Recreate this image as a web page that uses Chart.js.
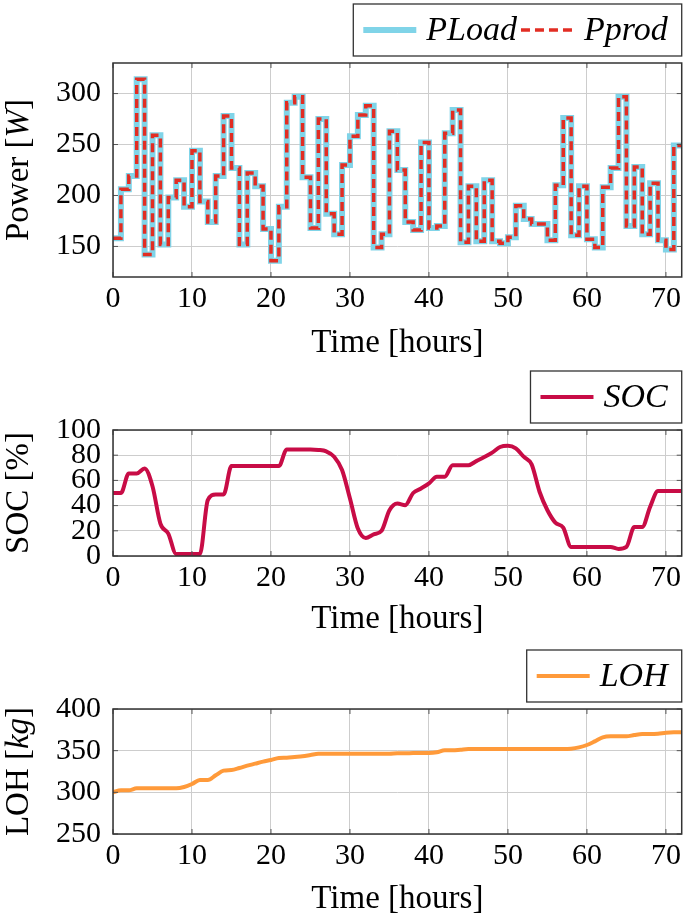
<!DOCTYPE html>
<html>
<head>
<meta charset="utf-8">
<script src="https://cdn.jsdelivr.net/npm/chart.js@4.4.1/dist/chart.umd.min.js"></script>
<style>
  html, body { margin: 0; padding: 0; background: #fff; }
  canvas { position: absolute; left: 0; display: block; }
  #powerChart { top: 0; }
  #socChart { top: 360px; }
  #lohChart { top: 640px; }
</style>
</head>
<body>
<canvas id="powerChart" width="685" height="360"></canvas>
<canvas id="socChart" width="685" height="280"></canvas>
<canvas id="lohChart" width="685" height="281"></canvas>
<script>
// time axis (hours)
const hours = [0, 1, 2, 3, 4, 5, 6, 7, 8, 9, 10, 11, 12, 13, 14, 15, 16, 17, 18, 19, 20,
  21, 22, 23, 24, 25, 26, 27, 28, 29, 30, 31, 32, 33, 34, 35, 36, 37, 38, 39, 40,
  41, 42, 43, 44, 45, 46, 47, 48, 49, 50, 51, 52, 53, 54, 55, 56, 57, 58, 59, 60,
  61, 62, 63, 64, 65, 66, 67, 68, 69, 70, 71, 72];

// power [W], hourly steps
const pLoad = [158, 206, 219, 314, 142, 259, 152, 198, 215, 189, 244, 194, 174, 219, 278, 227,
  152, 222, 209, 167, 136, 189, 291, 297, 218, 168, 275, 182, 162, 230, 258, 279,
  288, 149, 162, 263, 225, 174, 166, 252, 168, 170, 261, 284, 154, 209, 155, 215,
  155, 153, 159, 190, 177, 172, 172, 156, 210, 276, 161, 209, 157, 149, 208, 227,
  297, 170, 228, 162, 212, 156, 147, 249, 249];
const pProd = [158, 206, 219, 314, 142, 259, 152, 198, 215, 189, 244, 194, 174, 219, 278, 227,
  152, 222, 209, 167, 136, 189, 291, 297, 218, 168, 275, 182, 162, 230, 258, 279,
  288, 149, 162, 263, 225, 174, 166, 252, 168, 170, 261, 284, 154, 209, 155, 215,
  155, 153, 159, 190, 177, 172, 172, 156, 210, 276, 161, 209, 157, 149, 208, 227,
  297, 170, 228, 162, 212, 156, 147, 249, 249];

// state of charge [%]
const soc = [50, 50, 65.5, 65.5, 69.5, 55.4, 25.7, 17.8, 1.5, 1.5, 1.5, 1.5, 44.3, 48.8, 48.8, 71.4,
  71.4, 71.4, 71.4, 71.4, 71.4, 71.4, 84.6, 84.6, 84.6, 84.6, 84.2, 83, 78.8, 68.2, 45.6, 21.8,
  14.3, 17.2, 20, 36.3, 41.6, 40.3, 50, 53.6, 57.6, 62.9, 62.9, 72.1, 72.1, 72.1, 75.3, 78.5,
  82, 86.5, 87.5, 85.4, 78.8, 72.7, 51, 36.3, 26.5, 22.5, 7.2, 7.2, 7.2, 7.2, 7.2, 7.2,
  5.6, 7.2, 23, 23, 39, 51.5, 51.5, 51.5, 51.5];

// LOH [kg]
const loh = [300, 302.4, 302.4, 304.8, 304.8, 304.8, 304.8, 304.8, 304.8, 306.4, 310, 314.8, 314.8, 320.4, 326, 326.8,
  329.2, 332, 334.4, 336.8, 338.8, 341.2, 341.6, 342.4, 343.2, 344.8, 346.4, 346.4, 346.4, 346.4, 346.4, 346.4,
  346.4, 346.4, 346.4, 346.4, 346.8, 346.8, 347.2, 347.2, 347.2, 348, 350.4, 350.4, 351.2, 352, 352, 352,
  352, 352, 352, 352, 352, 352, 352, 352, 352, 352, 352.4, 354, 356.8, 361.2, 366, 367.2, 367.2, 367.2,
  368.8, 370, 370, 370.4, 371.6, 372, 372];

const xTicks = [0, 10, 20, 30, 40, 50, 60, 70];
const powerTicks = [150, 200, 250, 300];
const socTicks = [0, 20, 40, 60, 80, 100];
const lohTicks = [250, 300, 350, 400];

const serif = "'Liberation Serif'";

// pgfplots-ish frame, inward tick marks, boxed legend and y title
const pgfFrame = {
    id: 'pgfFrame',
    afterDraw(chart, args, opts) {
        const { ctx, chartArea: a, scales } = chart;
        ctx.save();

        ctx.strokeStyle = '#555';
        ctx.lineWidth = 1;
        ctx.beginPath();
        scales.x.ticks.forEach(t => {
            const px = scales.x.getPixelForValue(t.value);
            ctx.moveTo(px, a.top); ctx.lineTo(px, a.top + 5);
            ctx.moveTo(px, a.bottom); ctx.lineTo(px, a.bottom - 5);
        });
        scales.y.ticks.forEach(t => {
            const py = scales.y.getPixelForValue(t.value);
            ctx.moveTo(a.left, py); ctx.lineTo(a.left + 5, py);
            ctx.moveTo(a.right, py); ctx.lineTo(a.right - 5, py);
        });
        ctx.stroke();

        ctx.strokeStyle = '#333';
        ctx.lineWidth = 1.5;
        ctx.strokeRect(a.left, a.top, a.right - a.left, a.bottom - a.top);

        // y title, mixed upright / italic
        ctx.save();
        ctx.translate(19, (a.top + a.bottom) / 2);
        ctx.rotate(-Math.PI / 2);
        ctx.textBaseline = 'middle';
        ctx.textAlign = 'left';
        ctx.fillStyle = '#000';
        const fontOf = it => (it ? 'italic ' : '') + '33px ' + serif;
        let total = 0;
        opts.yTitle.forEach(([txt, it]) => { ctx.font = fontOf(it); total += ctx.measureText(txt).width; });
        let tx = -total / 2;
        opts.yTitle.forEach(([txt, it]) => {
            ctx.font = fontOf(it);
            ctx.fillText(txt, tx, 0);
            tx += ctx.measureText(txt).width;
        });
        ctx.restore();

        // legend box
        const dsets = chart.data.datasets;
        ctx.font = 'italic 34px ' + serif;
        const widths = dsets.map(d => ctx.measureText(d.label).width);
        const sample = 53;
        let boxW = 10 + 14;
        widths.forEach((w, i) => { boxW += sample + 10 + w + (i > 0 ? 4 : 0); });
        const boxH = 52;
        const bx = a.right - boxW;
        const by = a.top - 7 - boxH;
        ctx.fillStyle = '#fff';
        ctx.fillRect(bx, by, boxW, boxH);
        ctx.strokeStyle = '#333';
        ctx.lineWidth = 1.3;
        ctx.strokeRect(bx, by, boxW, boxH);
        const cy = by + boxH / 2;
        let lx = bx + 10;
        dsets.forEach((d, i) => {
            if (i > 0) lx += 4;
            ctx.save();
            ctx.strokeStyle = d.borderColor;
            ctx.lineWidth = d.borderWidth;
            ctx.setLineDash(d.borderDash || []);
            ctx.beginPath();
            ctx.moveTo(lx, cy); ctx.lineTo(lx + sample, cy);
            ctx.stroke();
            ctx.restore();
            lx += sample + 10;
            ctx.fillStyle = '#000';
            ctx.textBaseline = 'middle';
            ctx.textAlign = 'left';
            ctx.fillText(d.label, lx, cy + 1);
            lx += widths[i];
        });

        ctx.restore();
    }
};

const pts = vals => hours.map((h, i) => ({ x: h, y: vals[i] }));

function makeChart(id, datasets, yRange, yTicks, yTitle, padTop, xHeight, titlePad) {
    const canvas = document.getElementById(id);
    return new Chart(canvas, {
        type: 'line',
        data: { datasets },
        plugins: [pgfFrame],
        options: {
            responsive: false,
            animation: false,
            layout: { padding: { top: padTop, right: 3, left: 0, bottom: 0 } },
            elements: { point: { radius: 0 } },
            plugins: {
                legend: { display: false },
                tooltip: { enabled: false },
                pgfFrame: { yTitle }
            },
            scales: {
                x: {
                    type: 'linear',
                    min: 0,
                    max: 72,
                    afterBuildTicks: s => { s.ticks = xTicks.map(v => ({ value: v })); },
                    afterFit: s => { s.height = xHeight; },
                    grid: { color: '#cdcdcd', lineWidth: 1, drawTicks: false },
                    border: { display: false },
                    ticks: {
                        font: { family: serif, size: 30 },
                        color: '#000',
                        padding: 4,
                        maxRotation: 0,
                        autoSkip: false
                    },
                    title: {
                        display: true,
                        text: 'Time [hours]',
                        color: '#000',
                        font: { family: serif, size: 33, lineHeight: 1 },
                        padding: { top: 0, bottom: titlePad }
                    }
                },
                y: {
                    min: yRange[0],
                    max: yRange[1],
                    afterBuildTicks: s => { s.ticks = yTicks.map(v => ({ value: v })); },
                    afterFit: s => { s.width = 113; },
                    grid: { color: '#cdcdcd', lineWidth: 1, drawTicks: false },
                    border: { display: false },
                    ticks: {
                        font: { family: serif, size: 30 },
                        color: '#000',
                        padding: 12,
                        autoSkip: false
                    }
                }
            }
        }
    });
}

makeChart('powerChart', [
    {
        label: 'PLoad',
        data: pts(pLoad),
        borderColor: '#80d4e8',
        borderWidth: 6,
        stepped: true,
        order: 1
    },
    {
        label: 'Pprod',
        data: pts(pProd),
        borderColor: '#e22d23',
        borderWidth: 3.5,
        borderDash: [9, 5],
        stepped: true,
        order: 0
    }
], [120, 330], powerTicks, [['Power [', false], ['W', true], [']', false]], 63, 83, 0);

makeChart('socChart', [
    {
        label: 'SOC',
        data: pts(soc),
        borderColor: '#c80c46',
        borderWidth: 4,
        cubicInterpolationMode: 'monotone',
        borderJoinStyle: 'round'
    }
], [0, 100], socTicks, [['SOC [%]', false]], 70, 84, 4);

makeChart('lohChart', [
    {
        label: 'LOH',
        data: pts(loh),
        borderColor: '#ff9a3a',
        borderWidth: 4,
        cubicInterpolationMode: 'monotone',
        borderJoinStyle: 'round'
    }
], [250, 400], lohTicks, [['LOH [', false], ['kg', true], [']', false]], 69, 87, 5);
</script>
</body>
</html>
